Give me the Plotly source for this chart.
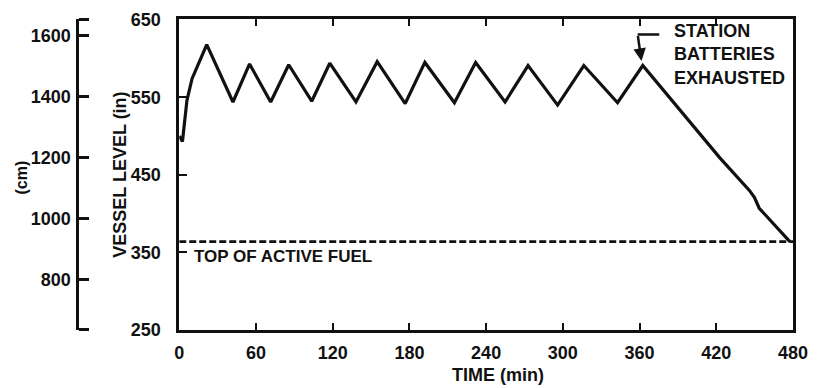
import plotly.graph_objects as go

# ---- data ----
time_min = [0, 2.5, 6, 10, 21.5, 42, 55, 71.5, 85.6, 103.6, 117.7, 138.2, 154.8,
            176.7, 192.1, 215.2, 231.8, 254.8, 272.8, 295.9, 316.4, 342.8, 362.5,
            399.8, 422.8, 445.9, 449.8, 453.6, 477.5]
level_in = [500, 493, 546, 574, 618, 544, 593, 544, 592, 545, 594, 544, 596,
            542, 595, 543, 595, 544, 591, 540, 591, 543, 591,
            517, 472, 430, 421, 407, 364]
taf_level = 364          # top of active fuel (in)
x_ticks = [0, 60, 120, 180, 240, 300, 360, 420, 480]
y_ticks_in = [250, 350, 450, 550, 650]
y_ticks_cm = [800, 1000, 1200, 1400, 1600]
x_range = [0, 480]
y_range_in = [250, 651]
IN_TO_CM = 2.54

level_cm = [v * IN_TO_CM for v in level_in]
y_range_cm = [v * IN_TO_CM for v in y_range_in]

FONT = "Liberation Sans"
BLACK = "#111111"

fig = go.Figure()
fig.add_trace(go.Scatter(x=time_min, y=level_in, mode="lines",
                         line=dict(color=BLACK, width=3.2), hoverinfo="skip",
                         showlegend=False))
fig.add_trace(go.Scatter(x=x_range, y=[taf_level, taf_level], mode="lines",
                         line=dict(color=BLACK, width=2.6, dash="7px,3px"),
                         hoverinfo="skip", showlegend=False))
# invisible trace carrying the cm scale (own hidden x axis)
fig.add_trace(go.Scatter(x=time_min, y=level_cm, mode="lines", xaxis="x2", yaxis="y2",
                         line=dict(color="rgba(0,0,0,0)", width=0), hoverinfo="skip",
                         showlegend=False))

W, H = 818, 388
ml, mr, mt, mb = 10, 17, 14, 58
pw = W - ml - mr
x_dom0 = (177 - ml) / pw
cm_pos = (72 - ml) / pw

tickfont = dict(family=FONT, size=18, color=BLACK, weight="bold")

fig.update_layout(
    width=W, height=H,
    margin=dict(l=ml, r=mr, t=mt, b=mb),
    paper_bgcolor="white", plot_bgcolor="white",
    xaxis=dict(domain=[x_dom0, 1], range=x_range, tickvals=x_ticks,
               ticks="inside", ticklen=7, tickwidth=2, tickcolor=BLACK,
               showline=True, linewidth=2.8, linecolor=BLACK, mirror="allticks",
               showgrid=False, zeroline=False, tickfont=tickfont,
               ticklabelstandoff=4),
    yaxis=dict(range=y_range_in, tickvals=y_ticks_in,
               ticks="inside", ticklen=8, tickwidth=2, tickcolor=BLACK,
               showline=True, linewidth=2.8, linecolor=BLACK, mirror=True,
               showgrid=False, zeroline=False, tickfont=tickfont,
               ticklabelstandoff=12),
    xaxis2=dict(domain=[cm_pos - 0.02, cm_pos], anchor="y2", visible=False,
                range=x_range),
    yaxis2=dict(anchor="x2", side="right", range=y_range_cm,
                tickvals=[y_range_cm[0] + 1.5] + y_ticks_cm + [y_range_cm[1] - 1.5],
                ticktext=[""] + [str(v) for v in y_ticks_cm] + [""],
                ticks="outside", ticklen=10, tickwidth=2.6, tickcolor=BLACK,
                ticklabelposition="inside",
                showline=True, linewidth=2.8, linecolor=BLACK,
                showgrid=False, zeroline=False, tickfont=tickfont,
                ticklabelstandoff=6),
)

lab = dict(family=FONT, size=18, color=BLACK, weight="bold")
fig.add_annotation(text="VESSEL LEVEL (in)", xref="paper", yref="paper",
                   x=(116 - ml) / pw, y=0.5, textangle=-90, showarrow=False,
                   font=lab, xanchor="center", yanchor="middle")
fig.add_annotation(text="(cm)", xref="paper", yref="paper",
                   x=(17 - ml) / pw, y=0.49, textangle=-90, showarrow=False,
                   font=dict(family=FONT, size=16, color=BLACK, weight="bold"),
                   xanchor="center", yanchor="middle")
fig.add_annotation(text="TIME (min)", xref="paper", yref="paper",
                   x=(501 - ml) / pw, y=-0.145, showarrow=False, font=lab,
                   xanchor="center", yanchor="middle")
fig.add_annotation(text="TOP OF ACTIVE FUEL", x=10, y=345, xref="x", yref="y",
                   showarrow=False, xanchor="left", yanchor="middle",
                   font=dict(family=FONT, size=17, color=BLACK, weight="bold"))
fig.add_annotation(text="STATION<br>BATTERIES<br>EXHAUSTED", x=385, y=605,
                   xref="x", yref="y", showarrow=False, xanchor="left",
                   yanchor="middle", align="left",
                   font=dict(family=FONT, size=18, color=BLACK, weight="bold"))
# bent arrow pointing at the last peak
fig.add_shape(type="line", x0=358.5, y0=631, x1=375.4, y1=631, xref="x", yref="y",
              line=dict(color=BLACK, width=2.5))
fig.add_annotation(text="", x=361.5, y=597, ax=358.5, ay=631, xref="x", yref="y",
                   axref="x", ayref="y", showarrow=True, arrowhead=2,
                   arrowsize=1, arrowwidth=2.5, arrowcolor=BLACK)

fig.write_html("out.html")
